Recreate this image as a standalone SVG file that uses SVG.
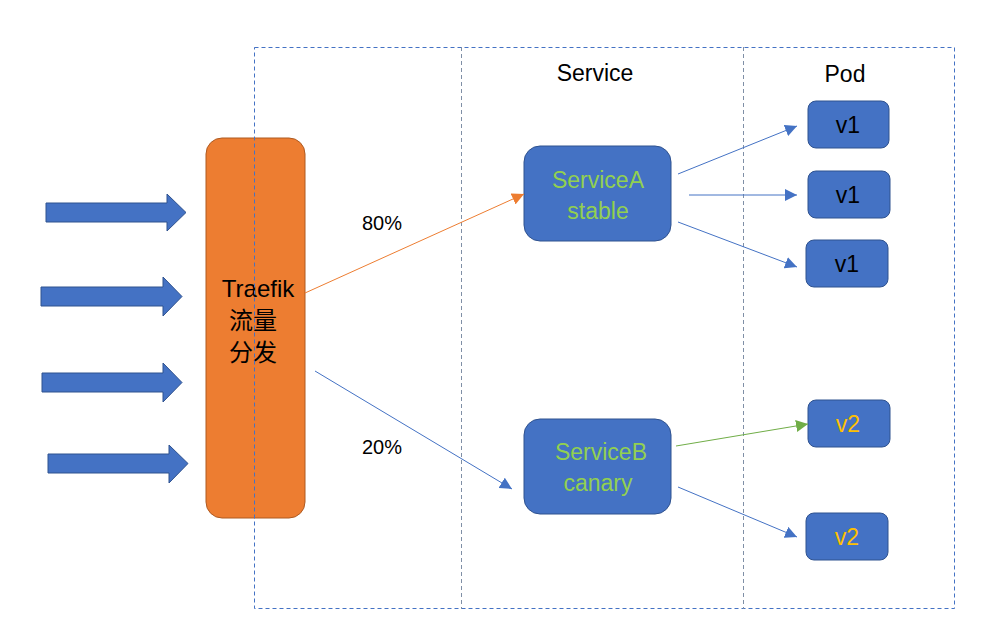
<svg xmlns="http://www.w3.org/2000/svg" width="1005" height="644" viewBox="0 0 1005 644">
<style>
.t{font-family:"Liberation Sans","Noto Sans CJK SC",sans-serif}
.box{fill:#4472C4;stroke:#2F528F;stroke-width:1}
.blk{fill:#4472C4;stroke:#2F528F;stroke-width:1}
.pod{font-size:23px;fill:#000;text-anchor:middle}
.pod2{font-size:23px;fill:#FFC000;text-anchor:middle}
.svc{font-size:23px;fill:#92D050;text-anchor:middle}
.lbl{font-size:20px;fill:#000;text-anchor:middle}
.hdr{font-size:23px;fill:#000;text-anchor:middle}
.c{fill:none;stroke-width:1}
</style>
<defs>
<marker id="ab" viewBox="0 0 10 10" refX="10" refY="5" markerWidth="12" markerHeight="12" markerUnits="userSpaceOnUse" orient="auto"><path d="M0,0L10,5L0,10z" fill="#4472C4"/></marker>
<marker id="ao" viewBox="0 0 10 10" refX="10" refY="5" markerWidth="12" markerHeight="12" markerUnits="userSpaceOnUse" orient="auto"><path d="M0,0L10,5L0,10z" fill="#ED7D31"/></marker>
<marker id="ag" viewBox="0 0 10 10" refX="10" refY="5" markerWidth="12" markerHeight="12" markerUnits="userSpaceOnUse" orient="auto"><path d="M0,0L10,5L0,10z" fill="#70AD47"/></marker>
</defs>
<rect width="1005" height="644" fill="#fff"/>
<g id="inputs">
<path class="blk" d="M46,203H167V194L186,212.5L167,231V222H46z"/>
<path class="blk" d="M41,287H163V277L182,296.5L163,316V306H41z"/>
<path class="blk" d="M42,373H163V363L182,382.5L163,402V392H42z"/>
<path class="blk" d="M48,454H169V445L188,463.5L169,483V473H48z"/>
</g>
<g id="traefik">
<rect x="206" y="138" width="99" height="380" rx="16" fill="#ED7D31" stroke="#AE5A21"/>
<text class="t" x="258" y="297" font-size="24" text-anchor="middle">Traefik</text>
<text class="t" x="253" y="329" font-size="24" text-anchor="middle">流量</text>
<text class="t" x="253" y="361" font-size="24" text-anchor="middle">分发</text>
</g>
<g id="frame" fill="none" stroke-dasharray="4,3">
<rect x="254.5" y="47.5" width="700" height="561" stroke="#4472C4"/>
<line x1="461.5" y1="47" x2="461.5" y2="609" stroke="#7F8FA6"/>
<line x1="743.5" y1="47" x2="743.5" y2="609" stroke="#7F8FA6"/>
</g>
<text class="t hdr" x="595" y="81">Service</text>
<text class="t hdr" x="845" y="82">Pod</text>
<g id="serviceA">
<rect class="box" x="524" y="146" width="147" height="95" rx="16"/>
<text class="t svc" x="598" y="188">ServiceA</text>
<text class="t svc" x="598" y="219">stable</text>
</g>
<g id="serviceB">
<rect class="box" x="524" y="419" width="147" height="95" rx="16"/>
<text class="t svc" x="601" y="460">ServiceB</text>
<text class="t svc" x="598" y="491">canary</text>
</g>
<g id="pod1"><rect class="box" x="808" y="101" width="81" height="47" rx="8"/><text class="t pod" x="848" y="133">v1</text></g>
<g id="pod2"><rect class="box" x="808" y="171" width="82" height="47" rx="8"/><text class="t pod" x="848" y="203">v1</text></g>
<g id="pod3"><rect class="box" x="806" y="240" width="82" height="47" rx="8"/><text class="t pod" x="847" y="272">v1</text></g>
<g id="pod4"><rect class="box" x="808" y="400" width="82" height="47" rx="8"/><text class="t pod2" x="848" y="432">v2</text></g>
<g id="pod5"><rect class="box" x="806" y="513" width="82" height="47" rx="8"/><text class="t pod2" x="847" y="545">v2</text></g>
<g id="connectors">
<line class="c" x1="305" y1="293" x2="524" y2="194" stroke="#ED7D31" marker-end="url(#ao)"/>
<line class="c" x1="315" y1="371" x2="512" y2="489" stroke="#4472C4" marker-end="url(#ab)"/>
<line class="c" x1="678" y1="174" x2="797" y2="126" stroke="#4472C4" marker-end="url(#ab)"/>
<line class="c" x1="689" y1="195" x2="797" y2="195" stroke="#4472C4" marker-end="url(#ab)"/>
<line class="c" x1="678" y1="222" x2="797" y2="267" stroke="#4472C4" marker-end="url(#ab)"/>
<line class="c" x1="676" y1="446" x2="808" y2="424" stroke="#70AD47" marker-end="url(#ag)"/>
<line class="c" x1="678" y1="487" x2="797" y2="537" stroke="#4472C4" marker-end="url(#ab)"/>
</g>
<text class="t lbl" x="382" y="230">80%</text>
<text class="t lbl" x="382" y="454">20%</text>
</svg>
